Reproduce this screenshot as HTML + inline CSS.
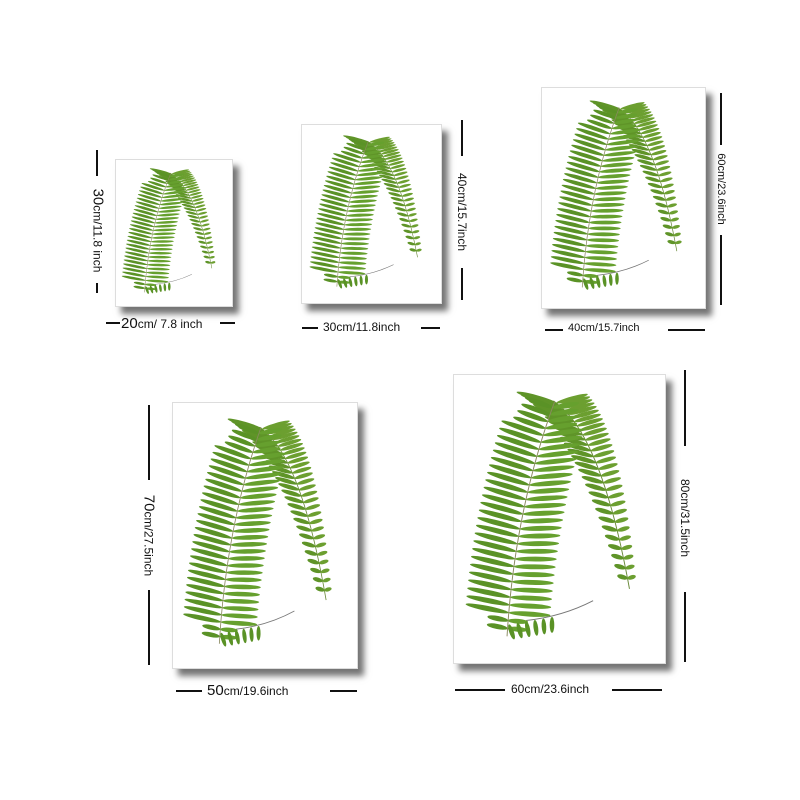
<!DOCTYPE html>
<html><head><meta charset="utf-8"><style>
body{margin:0;width:800px;height:800px;background:#fff;position:relative;overflow:hidden;font-family:"Liberation Sans",sans-serif;color:#111}
.frame{position:absolute;background:#fff;border:1px solid #ddd;box-shadow:6px 7px 6px rgba(0,0,0,.55)}
.frame svg{position:absolute}
.line{position:absolute;background:#111}
.lab{position:absolute;font-size:12px;white-space:nowrap}
.v{transform:rotate(90deg);transform-origin:center center}
</style></head><body>
<svg width="0" height="0" style="position:absolute"><defs>
<g id="fern"></g></defs></svg>

<div class="frame" style="left:115px;top:159px;width:116px;height:146px"></div>
<div class="frame" style="left:301px;top:124px;width:139px;height:178px"></div>
<div class="frame" style="left:541px;top:87px;width:163px;height:220px"></div>
<div class="frame" style="left:172px;top:402px;width:184px;height:265px"></div>
<div class="frame" style="left:453px;top:374px;width:211px;height:288px"></div>

<div class="line" style="left:96px;top:150px;width:2px;height:26px"></div>
<div class="line" style="left:96px;top:283px;width:2px;height:10px"></div>
<div class="lab v" style="left:48px;top:222px;width:100px;text-align:center"><span style="font-size:15px">30</span>cm/11.8 inch</div>
<div class="line" style="left:106px;top:322px;width:14px;height:2px"></div>
<div class="line" style="left:220px;top:322px;width:15px;height:2px"></div>
<div class="lab" style="left:121px;top:315px"><span style="font-size:15px">20</span>cm/ 7.8 inch</div>

<div class="line" style="left:461px;top:120px;width:2px;height:36px"></div>
<div class="line" style="left:461px;top:268px;width:2px;height:32px"></div>
<div class="lab v" style="left:412px;top:205px;width:100px;text-align:center">40cm/15.7inch</div>
<div class="line" style="left:302px;top:327px;width:16px;height:2px"></div>
<div class="line" style="left:421px;top:327px;width:19px;height:2px"></div>
<div class="lab" style="left:323px;top:320px">30cm/11.8inch</div>

<div class="line" style="left:720px;top:93px;width:2px;height:52px"></div>
<div class="line" style="left:720px;top:235px;width:2px;height:70px"></div>
<div class="lab v" style="left:671px;top:183px;width:100px;text-align:center;font-size:11px">60cm/23.6inch</div>
<div class="line" style="left:545px;top:329px;width:18px;height:2px"></div>
<div class="line" style="left:668px;top:329px;width:37px;height:2px"></div>
<div class="lab" style="left:568px;top:322px;font-size:11px">40cm/15.7inch</div>

<div class="line" style="left:148px;top:405px;width:2px;height:75px"></div>
<div class="line" style="left:148px;top:590px;width:2px;height:75px"></div>
<div class="lab v" style="left:89px;top:527px;width:120px;text-align:center"><span style="font-size:15px">70</span>cm/27.5inch</div>
<div class="line" style="left:176px;top:690px;width:26px;height:2px"></div>
<div class="line" style="left:330px;top:690px;width:27px;height:2px"></div>
<div class="lab" style="left:207px;top:682px"><span style="font-size:15px">50</span>cm/19.6inch</div>

<div class="line" style="left:684px;top:370px;width:2px;height:76px"></div>
<div class="line" style="left:684px;top:592px;width:2px;height:70px"></div>
<div class="lab v" style="left:635px;top:511px;width:100px;text-align:center">80cm/31.5inch</div>
<div class="line" style="left:455px;top:689px;width:50px;height:2px"></div>
<div class="line" style="left:612px;top:689px;width:50px;height:2px"></div>
<div class="lab" style="left:511px;top:682px">60cm/23.6inch</div>

<script>
function q(p0,p1,p2,t){return [(1-t)*(1-t)*p0[0]+2*(1-t)*t*p1[0]+t*t*p2[0],(1-t)*(1-t)*p0[1]+2*(1-t)*t*p1[1]+t*t*p2[1]];}
function leaf(x,y,L,ang,w,c){return `<ellipse cx="${x+L/2}" cy="${y}" rx="${L/2}" ry="${w}" fill="${c}" transform="rotate(${ang} ${x} ${y})"/>`;}
function build(){
  let s='';
  const A=[[70,10],[120,40],[150,200]];
  s+=`<path d="M70,10 Q120,40 150,200" stroke="#6a8a3a" fill="none" stroke-width="1"/>`;
  for(let i=1;i<30;i++){const t=i/30;const p=q(A[0],A[1],A[2],t);const L=34*(1-t)+10;
    s+=leaf(p[0],p[1],L,195,2.4,'#5f9428');
    s+=leaf(p[0],p[1],L*0.8,-15,2.2,'#6c9f30');}
  const B=[[22,248],[30,120],[72,10]];
  s+=`<path d="M42,232 Q80,228 112,212" stroke="#777" fill="none" stroke-width="1"/>`;
  for(let i=1;i<32;i++){const t=i/32;const p=q(B[0],B[1],B[2],t);let L=t<0.08?22:(t>0.85?28+(1-t)*60:46);
    s+=leaf(p[0],p[1],L,190+t*10,2.6,'#5a9226');
    s+=leaf(p[0],p[1],L*0.95,5-t*15,2.5,'#66a02e');}
  s+=`<path d="M22,248 Q30,120 72,10" stroke="#8a8a60" fill="none" stroke-width="1"/>`;
  for(let i=0;i<6;i++){const x=24+i*9,y=236-i*1.5;s+=leaf(x,y,16,70+i*4,2.4,'#5a9226');}
  return s;
}
document.getElementById('fern').innerHTML=build();
const boxes=[[115,159,116,146],[301,124,139,178],[541,87,163,220],[172,402,184,265],[453,374,211,288]];
document.querySelectorAll('.frame').forEach((f,i)=>{const [x,y,w,h]=boxes[i];
  const sv=document.createElementNS('http://www.w3.org/2000/svg','svg');
  
  
  sv.setAttribute('viewBox','0 0 150 262');sv.setAttribute('preserveAspectRatio','none');
  sv.setAttribute('overflow','visible');
  sv.style.left=(w*0.15)+'px';sv.style.top=(h*0.055)+'px';sv.setAttribute('width',w*0.68);sv.setAttribute('height',h*0.9);
  sv.innerHTML='<use href="#fern"/>';f.appendChild(sv);});
</script>
</body></html>
